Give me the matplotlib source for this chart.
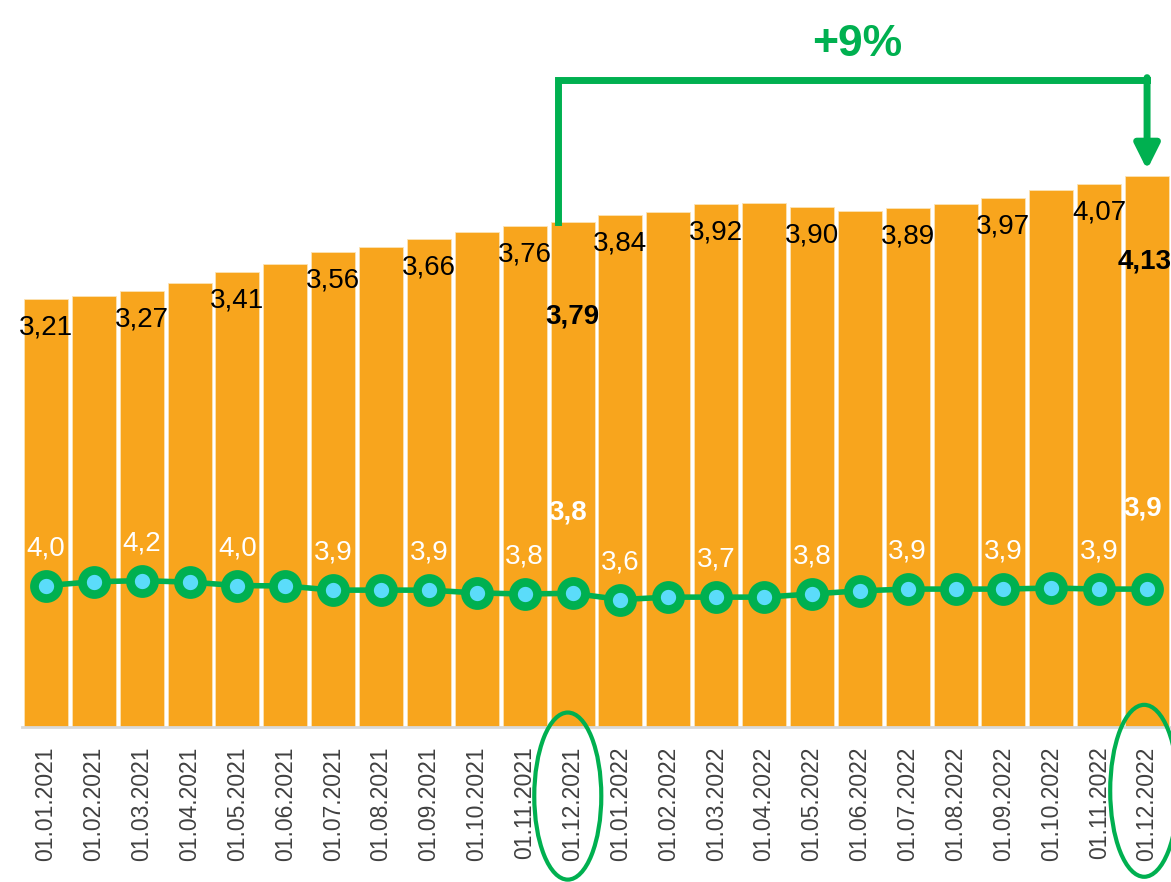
import matplotlib.pyplot as plt
from matplotlib.patches import Ellipse
from matplotlib.transforms import blended_transform_factory
import numpy as np

plt.rcParams['font.family'] = ['Liberation Sans', 'DejaVu Sans']

dates = ['01.01.2021', '01.02.2021', '01.03.2021', '01.04.2021', '01.05.2021', '01.06.2021',
         '01.07.2021', '01.08.2021', '01.09.2021', '01.10.2021', '01.11.2021', '01.12.2021',
         '01.01.2022', '01.02.2022', '01.03.2022', '01.04.2022', '01.05.2022', '01.06.2022',
         '01.07.2022', '01.08.2022', '01.09.2022', '01.10.2022', '01.11.2022', '01.12.2022']
bar_vals = [3.21, 3.23, 3.27, 3.33, 3.41, 3.47, 3.56, 3.60, 3.66, 3.71, 3.76, 3.79,
            3.84, 3.86, 3.92, 3.93, 3.90, 3.87, 3.89, 3.92, 3.97, 4.03, 4.07, 4.13]
line_vals = [4.04, 4.15, 4.18, 4.14, 4.04, 4.03, 3.91, 3.91, 3.91, 3.83, 3.80, 3.82,
             3.64, 3.71, 3.71, 3.71, 3.80, 3.89, 3.94, 3.94, 3.94, 3.97, 3.94, 3.94]
change_label = '+9%'

ORANGE = '#F8A51D'
GREEN = '#00B050'
CYAN = '#5BDCFA'

fig = plt.figure(figsize=(11.71, 8.82), dpi=100)
ax = fig.add_axes([0.0188, 0.1757, 0.9812, 0.786])
x = np.arange(len(dates))

ax.bar(x, bar_vals, width=0.92, color=ORANGE, edgecolor='#FCE3B5', linewidth=0.6, zorder=2)
ax.set_xlim(-0.5, len(dates) - 0.5)
ax.set_ylim(0, 5.2)
ax.set_yticks([])
for s in ['top', 'right', 'left']:
    ax.spines[s].set_visible(False)
ax.spines['bottom'].set_color('#D9D9D9')
ax.spines['bottom'].set_linewidth(2)
ax.set_xticks(x)
ax.set_xticklabels(dates, rotation=90, fontsize=16.5, color='#404040')
ax.tick_params(axis='x', length=0, pad=14)

def fmt(v, nd):
    return f'{v:.{nd}f}'.replace('.', ',')

# bar labels
for i, v in enumerate(bar_vals):
    if i == 11:
        ax.annotate(fmt(v, 2), (i, v), xytext=(0, -68), textcoords='offset points',
                    ha='center', va='center', fontsize=20, fontweight='bold', color='black', zorder=5)
    elif i == 23:
        ax.annotate(fmt(v, 2), (i - 0.05, v), xytext=(0, -61.5), textcoords='offset points',
                    ha='center', va='center', fontsize=20, fontweight='bold', color='black',
                    zorder=5, annotation_clip=False)
    elif i % 2 == 0:
        ax.annotate(fmt(v, 2), (i, v), xytext=(0, -20.5), textcoords='offset points',
                    ha='center', va='center', fontsize=20, color='black', zorder=5)

# line on secondary axis
ax2 = ax.twinx()
ax2.set_ylim(0, 19.8)
ax2.set_yticks([])
for s in ax2.spines.values():
    s.set_visible(False)
ax2.plot(x, line_vals, color=GREEN, lw=4, marker='o', ms=17.3, mew=6.3,
         mfc=CYAN, mec=GREEN, zorder=3)
for i, v in enumerate(line_vals):
    if i in (11, 23):
        ax2.annotate(fmt(v, 1), (i - 0.1, v), xytext=(0, 58), textcoords='offset points',
                     ha='center', va='center', fontsize=20, fontweight='bold', color='white')
    elif i % 2 == 0:
        ax2.annotate(fmt(v, 1), (i, v), xytext=(0, 27), textcoords='offset points',
                     ha='center', va='center', fontsize=20, color='white')

# bracket with arrow
top_y = 4.854
ax.plot([10.69, 10.69, 23.0], [bar_vals[11], top_y, top_y], color=GREEN, lw=5,
        solid_joinstyle='miter', clip_on=False, zorder=6)
ax.annotate('', xy=(23.0, 4.18), xytext=(23.0, top_y + 0.017),
            arrowprops=dict(arrowstyle='-|>,head_length=1.5,head_width=0.75', color=GREEN,
                            lw=5, shrinkA=0, shrinkB=0), annotation_clip=False, zorder=6)
ax.text(16.95, 5.116, change_label, ha='center', va='center', fontsize=32,
        fontweight='bold', color=GREEN, clip_on=False)

# ellipses around highlighted dates
tr = blended_transform_factory(ax.transData, ax.transAxes)
for cx, cy, w, h in [(10.9, -0.0996, 1.40, 0.241), (22.94, -0.092, 1.42, 0.248)]:
    ax.add_patch(Ellipse((cx, cy), w, h, transform=tr, fill=False, edgecolor=GREEN,
                         lw=3, clip_on=False, zorder=6))

fig.savefig('out.png', dpi=100)
